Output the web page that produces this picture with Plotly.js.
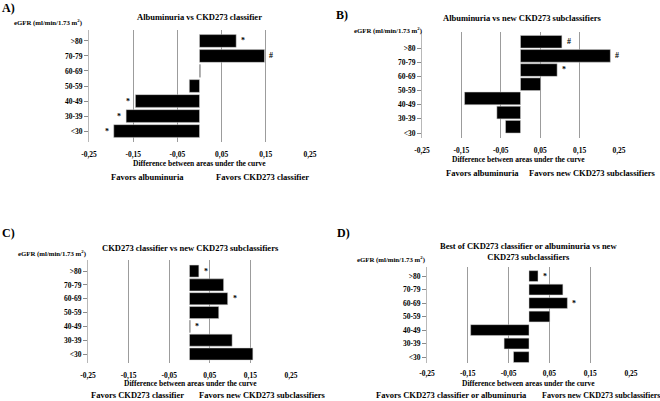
<!DOCTYPE html>
<html>
<head>
<meta charset="utf-8">
<script src="https://cdn.plot.ly/plotly-3.0.1.min.js"></script>
<style>html,body{margin:0;padding:0;background:#fff;}#chart{width:660px;height:401px;}</style>
</head>
<body>
<div id="chart"></div>
<script>
// ---- data ----
const categories = ['<30', '30-39', '40-49', '50-59', '60-69', '70-79', '>80'];
const diffA = [-0.194, -0.166, -0.145, -0.023, 0.002, 0.147, 0.083];
const sigA  = ['*', '*', '*', '', '', '#', '*'];
const diffB = [-0.038, -0.060, -0.142, 0.051, 0.093, 0.228, 0.105];
const sigB  = ['', '', '', '', '*', '#', '#'];
const diffC = [0.156, 0.105, 0.002, 0.072, 0.094, 0.084, 0.023];
const sigC  = ['', '', '*', '', '*', '', '*'];
const diffD = [-0.038, -0.061, -0.143, 0.051, 0.094, 0.083, 0.022];
const sigD  = ['', '', '', '', '*', '', '*'];
const xTickVals = [-0.25, -0.15, -0.05, 0.05, 0.15, 0.25];
const xTickText = ['-0,25', '-0,15', '-0,05', '0,05', '0,15', '0,25'];
const panelLetters = ['A)', 'B)', 'C)', 'D)'];
const panelTitles = [
  'Albuminuria vs CKD273 classifier',
  'Albuminuria vs new CKD273 subclassifiers',
  'CKD273 classifier vs new CKD273 subclassifiers',
  'Best of CKD273 classifier or albuminuria vs new<br>CKD273 subclassifiers'
];
const yAxisLabel = 'eGFR (ml/min/1.73 m<sup>2</sup>)';
const xAxisLabel = 'Difference between areas under the curve';
const favorsLeft = ['Favors albuminuria', 'Favors albuminuria', 'Favors CKD273 classifier', 'Favors CKD273 classifier or albuminuria'];
const favorsRight = ['Favors CKD273 classifier', 'Favors new CKD273 subclassifiers', 'Favors new CKD273 subclassifiers', 'Favors new CKD273 subclassifiers'];

// ---- layout geometry (pixels) ----
const W = 660, H = 401;
const FONT = '"Liberation Serif", "Times New Roman", serif';
const panels = [
  {vals: diffA, sig: sigA, x0: 89, x1: 310, yTop: 30, yBot: 142, yr: [-0.73, 6.73], bw: 0.85, off: null, tl: 5,
   letter: [8, 8], title: [199, 17], ylab: [48, 23], xlab: [199, 163], fav: [147, 262, 177]},
  {vals: diffB, sig: sigB, x0: 422, x1: 619, yTop: 32, yBot: 138, yr: [-0.35, 7.13], bw: 0.89, off: 0, tl: 5,
   letter: [342, 15], title: [522, 18], ylab: [388, 30], xlab: [518, 159], fav: [482, 592, 173]},
  {vals: diffC, sig: sigC, x0: 88, x1: 291, yTop: 260, yBot: 363, yr: [-0.65, 6.8], bw: 0.87, off: null, tl: 5,
   letter: [8, 233], title: [190, 248], ylab: [52, 253], xlab: [190, 383], fav: [137, 262, 395]},
  {vals: diffD, sig: sigD, x0: 427, x1: 631, yTop: 267, yBot: 363, yr: [-0.44, 6.67], bw: 0.8, off: null, tl: 3,
   letter: [343, 233], title: [528, 251], ylab: [391, 259], xlab: [528, 383], fav: [451, 601, 395]}
];

const px = x => x / W;
const py = y => 1 - y / H;

const traces = [];
const annotations = [];
const layout = {
  width: W, height: H,
  margin: {l: 0, r: 0, t: 0, b: 0},
  paper_bgcolor: '#ffffff', plot_bgcolor: 'rgba(0,0,0,0)',
  showlegend: false,
  font: {family: FONT, color: '#000000'},
  annotations: annotations
};

function txt(text, x, y, size, extra) {
  annotations.push(Object.assign({
    text: text, xref: 'paper', yref: 'paper', x: px(x), y: py(y),
    xanchor: 'center', yanchor: 'middle', showarrow: false,
    font: {family: FONT, size: size, color: '#000000', weight: 'bold'}
  }, extra || {}));
}

panels.forEach((p, i) => {
  const n = i === 0 ? '' : String(i + 1);
  const t = {
    type: 'bar', orientation: 'h',
    x: p.vals, y: categories,
    xaxis: 'x' + n, yaxis: 'y' + n,
    width: p.bw,
    marker: {color: '#000000', line: {color: '#d0d0d0', width: 0.5}},
    hoverinfo: 'skip'
  };
  if (p.off !== null) t.offset = p.off;
  traces.push(t);

  layout['xaxis' + n] = {
    domain: [px(p.x0), px(p.x1)], anchor: 'y' + n,
    range: [-0.25, 0.25], tickvals: xTickVals, ticktext: xTickText,
    showgrid: true, gridcolor: '#9c9c9c', gridwidth: 1,
    zeroline: false, showline: false,
    ticks: 'outside', ticklen: p.tl, tickcolor: 'rgba(0,0,0,0)',
    tickfont: {family: FONT, size: 7.5, color: '#000000', weight: 'bold'}
  };
  layout['yaxis' + n] = {
    domain: [py(p.yBot), py(p.yTop)], anchor: 'x' + n,
    type: 'category', categoryorder: 'array', categoryarray: categories,
    range: p.yr, showgrid: false, zeroline: false,
    showline: true, linecolor: '#b8b8b8', linewidth: 1,
    ticks: 'outside', ticklen: 4, tickcolor: '#8a8a8a', tickwidth: 1,
    tickfont: {family: FONT, size: 7.5, color: '#000000', weight: 'bold'}
  };

  // significance markers from the data
  p.sig.forEach((s, k) => {
    if (!s) return;
    const v = p.vals[k];
    const right = v >= 0;
    annotations.push({
      text: s, x: v, y: categories[k],
      xref: 'x' + n, yref: 'y' + n,
      xanchor: right ? 'left' : 'right', yanchor: 'middle',
      xshift: right ? 3 : -3,
      yshift: p.off === 0 ? 7 : 0,
      showarrow: false,
      font: {family: FONT, size: 8, color: '#000000', weight: 'bold'}
    });
  });

  txt(panelLetters[i], p.letter[0], p.letter[1], 12);
  txt(panelTitles[i], p.title[0], p.title[1], 8.5);
  txt(yAxisLabel, p.ylab[0], p.ylab[1], 6.8);
  txt(xAxisLabel, p.xlab[0], p.xlab[1], 7.5);
  txt(favorsLeft[i], p.fav[0], p.fav[2], 8.5);
  txt(favorsRight[i], p.fav[1], p.fav[2], i === 3 ? 8 : 8.5);
});

Plotly.newPlot('chart', traces, layout, {staticPlot: true, displayModeBar: false});
</script>
</body>
</html>
